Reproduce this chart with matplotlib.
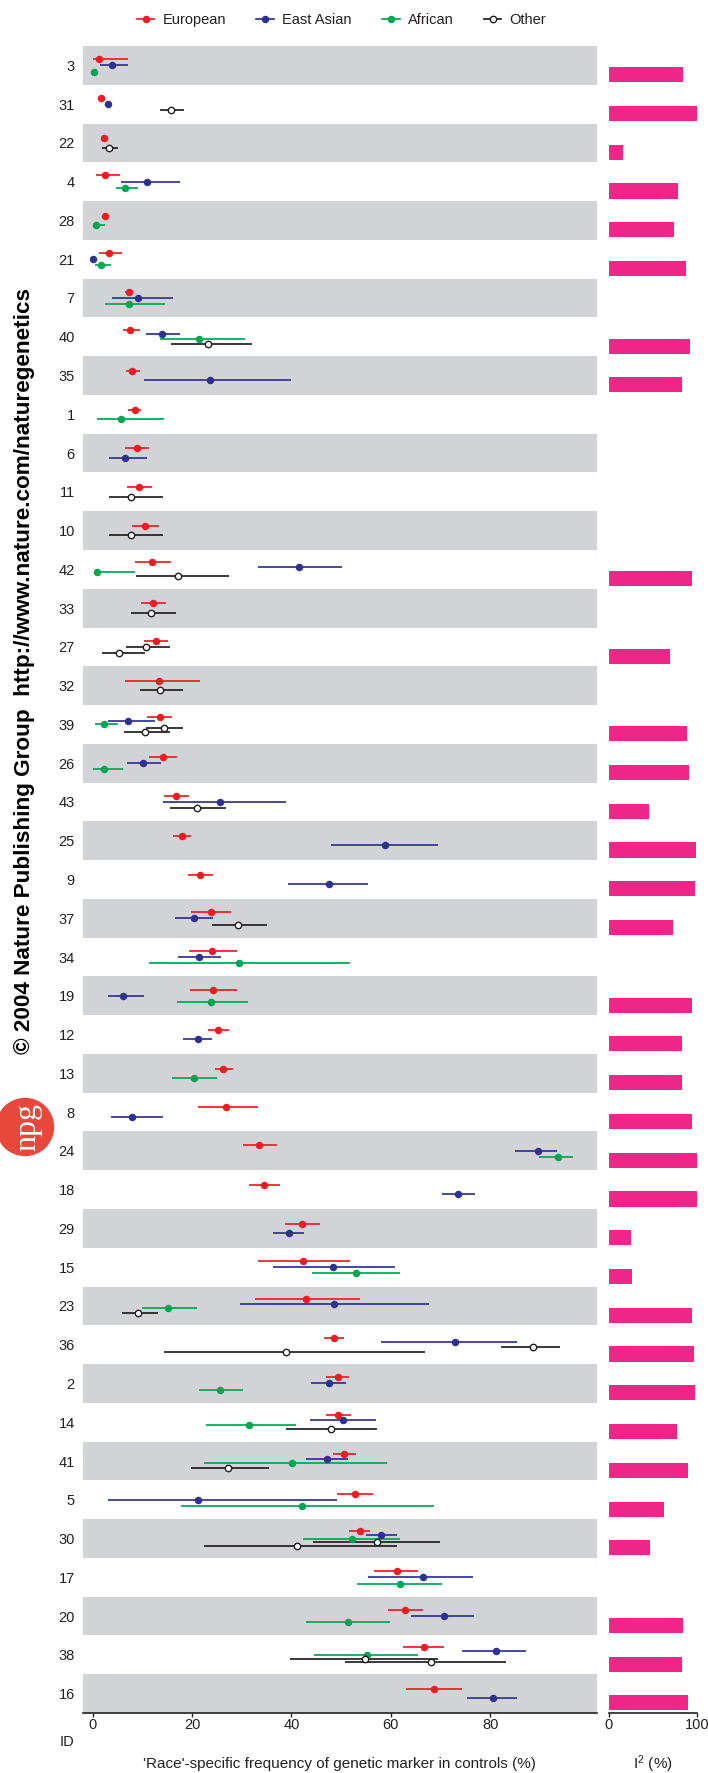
import matplotlib
matplotlib.use("Agg")
import matplotlib.pyplot as plt
from matplotlib.lines import Line2D
from matplotlib.patches import Circle

plt.rcParams['font.family'] = ['Liberation Sans', 'DejaVu Sans']

N = None

# study IDs, top to bottom
ids = [3, 31, 22, 4, 28, 21, 7, 40, 35, 1, 6, 11, 10, 42, 33, 27, 32, 39, 26, 43, 25, 9,
       37, 34, 19, 12, 13, 8, 24, 18, 29, 15, 23, 36, 2, 14, 41, 5, 30, 17, 20, 38, 16]

# European
eur_est = [1.3, 1.7, 2.3, 2.4, 2.5, 3.2, 7.3, 7.6, 8.0, 8.5, 8.9, 9.3, 10.6, 12.0, 12.2, 12.7, 13.3,
           13.5, 14.1, 16.8, 17.9, 21.6, 23.8, 24.0, 24.2, 25.3, 26.3, 26.9, 33.5, 34.5, 42.1, 42.3,
           43.0, 48.6, 49.3, 49.4, 50.6, 52.8, 53.8, 61.2, 62.9, 66.6, 68.7]
eur_lo = [0.0, 1.7, 2.3, 0.6, 2.5, 1.3, 6.6, 6.0, 6.7, 7.2, 6.6, 7.0, 8.0, 8.6, 9.7, 10.4, 6.6,
          11.0, 11.4, 14.4, 16.2, 19.1, 19.8, 19.4, 19.6, 23.3, 24.6, 21.1, 30.2, 31.4, 38.6, 33.2,
          32.6, 46.6, 47.0, 47.0, 48.3, 49.2, 51.6, 56.6, 59.5, 62.4, 63.0]
eur_hi = [7.2, 1.7, 2.3, 5.4, 2.5, 5.8, 8.0, 9.6, 9.6, 9.8, 11.3, 11.9, 13.3, 15.8, 14.7, 15.2, 21.6,
          16.0, 16.9, 19.3, 19.7, 24.2, 27.9, 29.0, 29.1, 27.4, 28.3, 33.2, 37.0, 37.6, 45.7, 51.7,
          53.7, 50.6, 51.5, 51.9, 52.9, 56.4, 55.9, 65.5, 66.4, 70.7, 74.3]

# East Asian
eas_est = [3.8, 3.0, N, 10.9, N, 0.0, 9.1, 14.0, 23.6, N, 6.5, N, N, 41.6, N, N, N, 7.1, 10.1, 25.6,
           58.9, 47.5, 20.3, 21.3, 6.2, 21.1, N, 8.0, 89.6, 73.6, 39.5, 48.4, 48.5, 72.9, 47.6, 50.4,
           47.2, 21.1, 58.1, 66.4, 70.6, 81.2, 80.5]
eas_lo = [1.4, 3.0, N, 5.6, N, 0.0, 3.9, 10.8, 10.3, N, 3.2, N, N, 33.3, N, N, N, 3.0, 6.9, 14.2,
          47.9, 39.4, 16.6, 17.1, 3.0, 18.2, N, 3.6, 84.9, 70.3, 36.3, 36.2, 29.7, 58.1, 44.0, 43.8,
          42.9, 3.1, 54.9, 55.4, 64.0, 74.3, 75.3]
eas_hi = [7.2, 3.0, N, 17.6, N, 0.0, 16.1, 17.6, 40.0, N, 10.9, N, N, 50.2, N, N, N, 12.6, 13.7, 38.9,
          69.5, 55.5, 24.3, 25.9, 10.3, 24.1, N, 14.1, 93.5, 76.9, 42.6, 60.9, 67.6, 85.4, 51.0, 57.0,
          51.3, 49.2, 61.3, 76.6, 76.8, 87.2, 85.3]

# African
afr_est = [0.2, N, N, 6.6, 0.7, 1.6, 7.3, 21.4, N, 5.6, N, N, N, 0.9, N, N, N, 2.3, 2.2, N, N, N, N,
           29.5, 23.8, N, 20.3, N, 93.7, N, N, 53.0, 15.1, N, 25.6, 31.4, 40.1, 42.1, 52.2, 61.9,
           51.3, 55.1, N]
afr_lo = [0.2, N, N, 4.6, 0.0, 0.4, 2.4, 13.5, N, 0.8, N, N, N, 0.9, N, N, N, 0.5, 0.1, N, N, N, N,
          11.3, 17.0, N, 16.0, N, 89.8, N, N, 44.1, 10.0, N, 21.3, 22.8, 22.4, 17.7, 42.4, 53.2,
          42.9, 44.6, N]
afr_hi = [0.2, N, N, 9.1, 2.5, 3.6, 14.5, 30.6, N, 14.3, N, N, N, 8.5, N, N, N, 5.0, 6.0, N, N, N, N,
          51.8, 31.3, N, 25.1, N, 96.7, N, N, 61.9, 20.9, N, 30.2, 40.9, 59.3, 68.6, 61.8, 70.3,
          59.8, 65.4, N]

# Other
oth_est = [N, 15.7, 3.3, N, N, N, N, 23.3, N, N, N, 7.8, 7.8, 17.1, 11.7, 10.7, 13.6, 14.3, N, 20.9,
           N, N, 29.3, N, N, N, N, N, N, N, N, N, 9.1, 88.7, N, 47.9, 27.2, N, 57.3, N, N, 54.7, N]
oth_lo = [N, 13.5, 1.9, N, N, N, N, 15.8, N, N, N, 3.3, 3.3, 8.7, 7.7, 6.8, 9.6, 10.8, N, 15.6,
          N, N, 24.0, N, N, N, N, N, N, N, N, N, 5.8, 82.2, N, 38.9, 19.8, N, 44.3, N, N, 39.7, N]
oth_hi = [N, 18.3, 5.0, N, N, N, N, 32.0, N, N, N, 14.1, 14.1, 27.4, 16.7, 15.6, 18.1, 18.1, N, 26.9,
          N, N, 35.1, N, N, N, N, N, N, N, N, N, 13.1, 94.0, N, 57.2, 35.5, N, 69.8, N, N, 69.4, N]

# second "Other" group in some studies
oth2_ids = [27, 39, 36, 30, 38]
oth2_est = [5.3, 10.6, 38.9, 41.1, 68.1]
oth2_lo = [1.8, 6.3, 14.4, 22.3, 50.8]
oth2_hi = [10.5, 15.6, 66.9, 61.3, 83.2]

# heterogeneity I^2 (%)
i2 = [85, 100, 16, 79, 74, 88, N, 92, 83, N, N, N, N, 95, N, 70, N, 89, 91, 46, 99, 98, 73, N,
      95, 83, 83, 95, 100, 100, 25, 27, 95, 97, 98, 78, 90, 63, 47, N, 85, 83, 90]

RED = '#ED1C24'
BLUE = '#2E3192'
GREEN = '#00A651'
BLACK = '#231F20'
PINK = '#EE2688'
BAND = '#D1D3D7'

W, H = 708, 1773
fig = plt.figure(figsize=(W / 100, H / 100), dpi=100)

top, bot = 46, 1713
ax = fig.add_axes([82.5 / W, 1 - bot / H, (596.6 - 82.5) / W, (bot - top) / H])
ax2 = fig.add_axes([608.5 / W, 1 - bot / H, 88.2 / W, (bot - top) / H])

nrow = len(ids)
for i in range(0, nrow, 2):
    ax.axhspan(i - 0.5, i + 0.5, color=BAND, lw=0, zorder=0)

series = [(eur_est, eur_lo, eur_hi, RED, True),
          (eas_est, eas_lo, eas_hi, BLUE, True),
          (afr_est, afr_lo, afr_hi, GREEN, True),
          (oth_est, oth_lo, oth_hi, BLACK, False)]

DOT = 5.4
RING = 4.6

for i in range(nrow):
    entries = []
    for est, lo, hi, col, filled in series:
        if est[i] is not None:
            entries.append((est[i], lo[i], hi[i], col, filled))
    if ids[i] in oth2_ids:
        j = oth2_ids.index(ids[i])
        entries.append((oth2_est[j], oth2_lo[j], oth2_hi[j], BLACK, False))
    n = len(entries)
    step = 0.485 / n
    for k, (e, l, h, c, f) in enumerate(entries):
        y = i + (k - (n - 1) / 2) * step
        ax.plot([l, h], [y, y], color=c, lw=1.25, solid_capstyle='butt', zorder=2)
        if f:
            ax.plot(e, y, 'o', ms=DOT, mfc=c, mec=c, mew=0, zorder=3)
        else:
            ax.plot(e, y, 'o', ms=RING, mfc='white', mec=BLACK, mew=1.0, zorder=3)

ax.set_xlim(-2.05, 101.4)
ax.set_ylim(nrow - 0.5, -0.5)
ax.set_xticks([0, 20, 40, 60, 80])
ax.set_yticks(range(nrow))
ax.set_yticklabels([str(v) for v in ids])
for s in ['top', 'right', 'left']:
    ax.spines[s].set_visible(False)
ax.spines['bottom'].set_color(BLACK)
ax.spines['bottom'].set_linewidth(1.2)
ax.tick_params(axis='y', length=0, pad=5.5, labelsize=10.5, labelcolor=BLACK)
ax.tick_params(axis='x', length=3, width=1, pad=0.5, labelsize=10.5, color=BLACK, labelcolor=BLACK)

# I^2 bars
for i in range(nrow):
    if i2[i] is not None:
        ax2.barh(i + 0.24, i2[i], height=0.39, color=PINK, lw=0)
ax2.set_xlim(0, 100)
ax2.set_ylim(nrow - 0.5, -0.5)
ax2.set_xticks([0, 100])
ax2.set_yticks([])
for s in ['top', 'right', 'left']:
    ax2.spines[s].set_visible(False)
ax2.spines['bottom'].set_color(BLACK)
ax2.spines['bottom'].set_linewidth(1.2)
ax2.tick_params(axis='x', length=3, width=1, pad=0.5, labelsize=10.5, color=BLACK, labelcolor=BLACK)

# labels
fig.text(74 / W, 1 - 1742 / H, 'ID', ha='right', va='center', fontsize=10.5, color=BLACK)
fig.text(339.5 / W, 1 - 1764 / H, "'Race'-specific frequency of genetic marker in controls (%)",
         ha='center', va='center', fontsize=11, color=BLACK)
fig.text(652.6 / W, 1 - 1764 / H, r'$\mathregular{I^2}$ (%)', ha='center', va='center',
         fontsize=11, color=BLACK)

# legend
handles = [Line2D([], [], color=RED, marker='o', ms=DOT, mew=0, lw=1.25),
           Line2D([], [], color=BLUE, marker='o', ms=DOT, mew=0, lw=1.25),
           Line2D([], [], color=GREEN, marker='o', ms=DOT, mew=0, lw=1.25),
           Line2D([], [], color=BLACK, marker='o', ms=RING, mfc='white', mew=1.0, lw=1.25)]
fig.legend(handles, ['European', 'East Asian', 'African', 'Other'], loc='center',
           bbox_to_anchor=(0.4823, 1 - 20 / H), ncol=4, frameon=False, handlelength=1.2,
           handletextpad=0.55, columnspacing=2.1, fontsize=10.5, labelcolor=BLACK)

# publisher watermark
fig.text(25 / W, 1 - 671.5 / H,
         '\u00a9 2004 Nature Publishing Group  http://www.nature.com/naturegenetics',
         rotation=90, ha='center', va='center', fontsize=16.2, fontweight='bold', color='black')

# npg logo
lax = fig.add_axes([0, 1 - 1160 / H, 60 / W, 66 / H])
lax.set_xlim(0, 60)
lax.set_ylim(0, 66)
lax.axis('off')
lax.add_patch(Circle((25, 33), 28.5, color='#E8473B', clip_on=False))
lax.text(28, 33, 'npg', rotation=90, ha='center', va='center', color='white', fontsize=23,
         family=['Liberation Serif', 'DejaVu Serif'])

fig.savefig('out.png', dpi=100)
